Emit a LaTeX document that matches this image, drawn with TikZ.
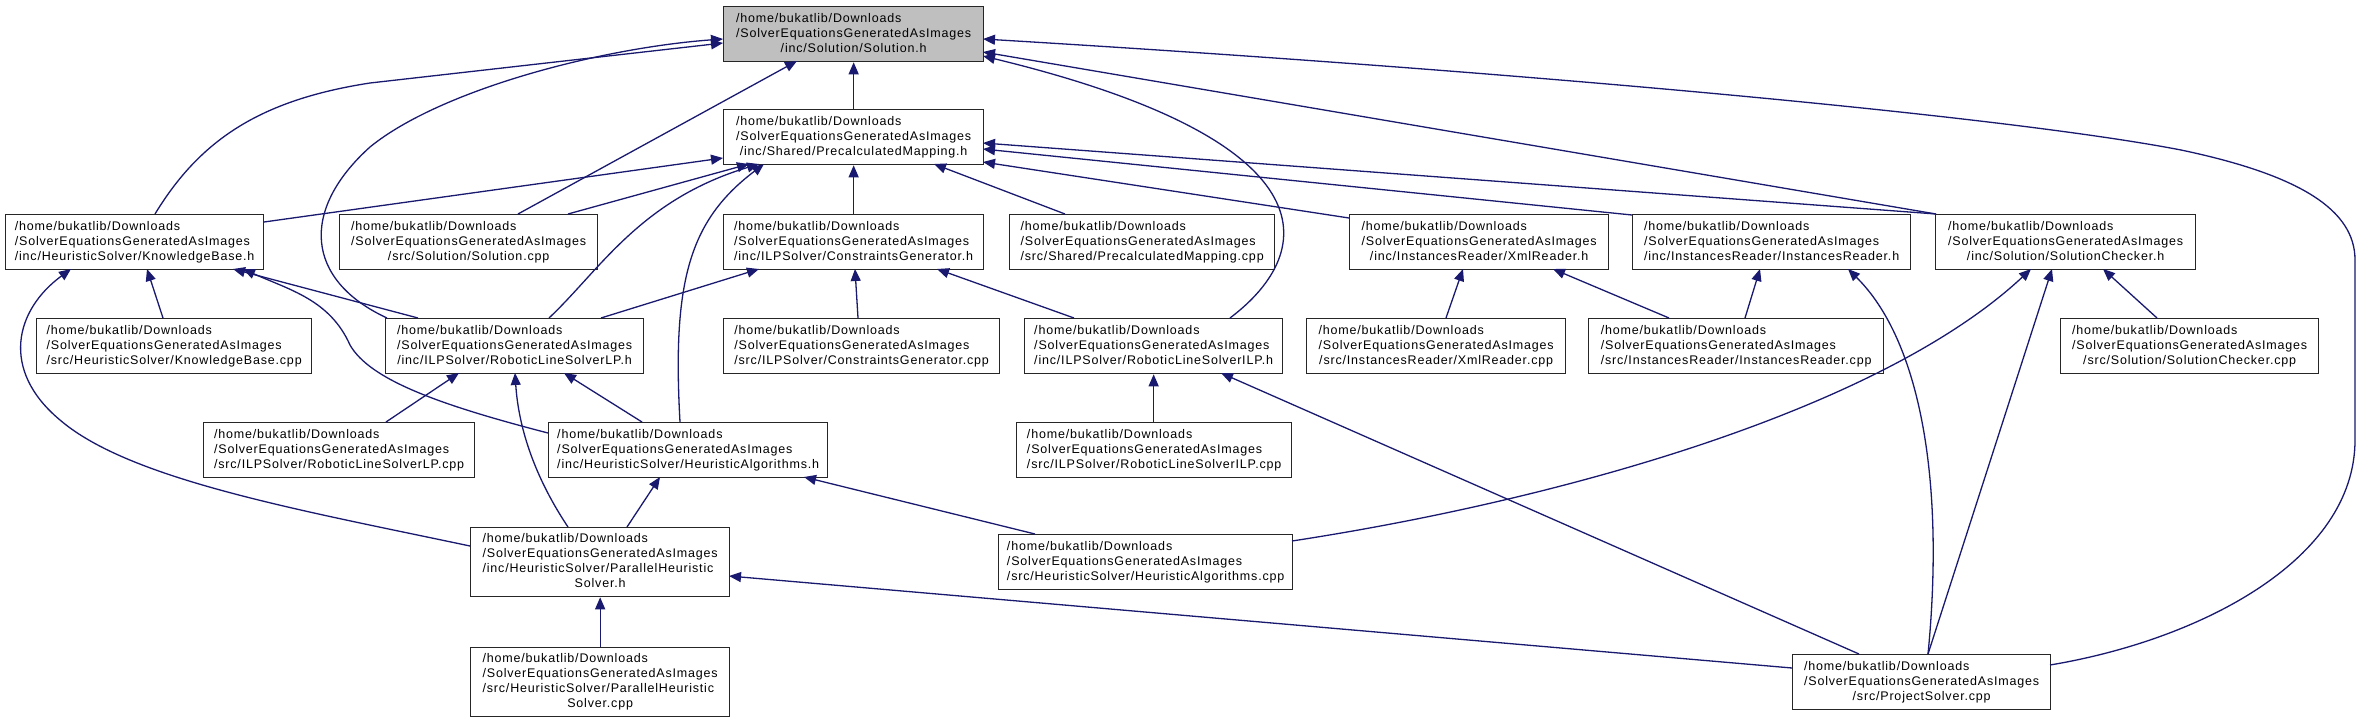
\documentclass[tikz,border=0pt]{standalone}
\usepackage{fontspec}
\setmainfont{Liberation Sans}[LetterSpace=6.5]
\usetikzlibrary{arrows.meta,calc}
\definecolor{edgeblue}{RGB}{25,25,112}
\definecolor{focusgray}{RGB}{191,191,191}
\newcommand\lbl[2]{\begin{tabular}{@{}l@{}}#1\\\multicolumn{1}{@{}c@{}}{#2}\end{tabular}}
\newcommand\hd{/home/bukatlib/Downloads\\/SolverEquationsGeneratedAsImages}
\tikzset{
  box/.style={draw=black!85, line width=1.3pt, fill=white, anchor=north west, inner sep=0pt,
    minimum height=55pt, font=\fontsize{12.5}{15}\selectfont},
  tall/.style={minimum height=69pt},
  focus/.style={fill=focusgray},
  e/.style={draw=edgeblue, line width=1.3pt, {Triangle[length=12pt,width=10pt]}-},
}
\begin{document}
\begin{tikzpicture}[x=1pt,y=-1pt]
\path[fill=white,use as bounding box] (0,0) rectangle (2361,723);
% nodes
\node[box,focus,minimum width=260pt] (sol) at (723,6) {\lbl{\hd}{/inc/Solution/Solution.h}};
\node[box,minimum width=260pt] (pm) at (723,109) {\lbl{\hd}{/inc/Shared/PrecalculatedMapping.h}};
\node[box,minimum width=258pt] (kb) at (5,214) {\lbl{\hd}{/inc/HeuristicSolver/KnowledgeBase.h}};
\node[box,minimum width=258pt] (solcpp) at (339,214) {\lbl{\hd}{/src/Solution/Solution.cpp}};
\node[box,minimum width=260pt] (cg) at (723,214) {\lbl{\hd}{/inc/ILPSolver/ConstraintsGenerator.h}};
\node[box,minimum width=265pt] (pmcpp) at (1009,214) {\lbl{\hd}{/src/Shared/PrecalculatedMapping.cpp}};
\node[box,minimum width=259pt] (xml) at (1349,214) {\lbl{\hd}{/inc/InstancesReader/XmlReader.h}};
\node[box,minimum width=278pt] (ir) at (1632,214) {\lbl{\hd}{/inc/InstancesReader/InstancesReader.h}};
\node[box,minimum width=260pt] (sc) at (1935,214) {\lbl{\hd}{/inc/Solution/SolutionChecker.h}};
\node[box,minimum width=275pt] (kbcpp) at (36,318) {\lbl{\hd}{/src/HeuristicSolver/KnowledgeBase.cpp}};
\node[box,minimum width=258pt] (lp) at (385,318) {\lbl{\hd}{/inc/ILPSolver/RoboticLineSolverLP.h}};
\node[box,minimum width=276pt] (cgcpp) at (723,318) {\lbl{\hd}{/src/ILPSolver/ConstraintsGenerator.cpp}};
\node[box,minimum width=258pt] (ilp) at (1024,318) {\lbl{\hd}{/inc/ILPSolver/RoboticLineSolverILP.h}};
\node[box,minimum width=259pt] (xmlcpp) at (1306,318) {\lbl{\hd}{/src/InstancesReader/XmlReader.cpp}};
\node[box,minimum width=295pt] (ircpp) at (1588,318) {\lbl{\hd}{/src/InstancesReader/InstancesReader.cpp}};
\node[box,minimum width=258pt] (sccpp) at (2060,318) {\lbl{\hd}{/src/Solution/SolutionChecker.cpp}};
\node[box,minimum width=271pt] (lpcpp) at (203,422) {\lbl{\hd}{/src/ILPSolver/RoboticLineSolverLP.cpp}};
\node[box,minimum width=279pt] (ha) at (548,422) {\lbl{\hd}{/inc/HeuristicSolver/HeuristicAlgorithms.h}};
\node[box,minimum width=275pt] (ilpcpp) at (1016,422) {\lbl{\hd}{/src/ILPSolver/RoboticLineSolverILP.cpp}};
\node[box,minimum width=294pt] (hacpp) at (998,534) {\lbl{\hd}{/src/HeuristicSolver/HeuristicAlgorithms.cpp}};
\node[box,tall,minimum width=259pt] (phs) at (470,527) {\lbl{\hd\\/inc/HeuristicSolver/ParallelHeuristic}{Solver.h}};
\node[box,tall,minimum width=259pt] (phscpp) at (470,647) {\lbl{\hd\\/src/HeuristicSolver/ParallelHeuristic}{Solver.cpp}};
\node[box,minimum width=258pt] (ps) at (1792,654) {\lbl{\hd}{/src/ProjectSolver.cpp}};
% edges (arrow at the included file)
\draw[e] ($(sol.north west)+(0,37)$) -- (370,83) .. controls (260,100) and (200,140) .. ($(kb.north west)+(150,0)$);
\draw[e] ($(sol.north west)+(0,33)$) .. controls (600,48) and (440,90) .. (370,147) .. controls (300,210) and (305,280) .. ($(lp.north west)+(2,0)$);
\draw[e] ($(sol.north west)+(74,55)$) -- ($(solcpp.north west)+(179,0)$);
\draw[e] (sol.south) -- (pm.north);
\draw[e] ($(sol.north west)+(260,50)$) .. controls (1330,140) and (1320,250) .. ($(ilp.north west)+(206,0)$);
\draw[e] ($(sol.north west)+(260,46)$) -- ($(sc.north west)+(1,0)$);
\draw[e] ($(sol.north west)+(260,33)$) .. controls (1500,70) and (2000,115) .. (2181,150) .. controls (2300,175) and (2355,210) .. (2355,260) -- (2355,440) .. controls (2355,560) and (2200,640) .. ($(ps.north west)+(258,11)$);
\draw[e] ($(pm.north west)+(0,49)$) -- ($(kb.north west)+(259,8)$);
\draw[e] ($(pm.north west)+(26,55)$) -- ($(solcpp.north west)+(229,0)$);
\draw[e] ($(pm.north west)+(36,55)$) .. controls (640,200) and (600,270) .. ($(lp.north west)+(164,0)$);
\draw[e] ($(pm.north west)+(41,55)$) .. controls (690,220) and (672,280) .. ($(ha.north west)+(132,0)$);
\draw[e] (pm.south) -- (cg.north);
\draw[e] ($(pm.north west)+(211,55)$) -- ($(pmcpp.north west)+(56,0)$);
\draw[e] ($(pm.north west)+(260,53)$) -- ($(xml.north west)+(0,4)$);
\draw[e] ($(pm.north west)+(260,40)$) -- ($(ir.north west)+(0,1)$);
\draw[e] ($(pm.north west)+(260,34)$) -- ($(sc.north west)+(1,0)$);
\draw[e] ($(kb.north west)+(142,55)$) -- ($(kbcpp.north west)+(127,0)$);
\draw[e] ($(kb.north west)+(228,55)$) -- ($(lp.north west)+(33,0)$);
\draw[e] ($(kb.north west)+(238,55)$) .. controls (290,290) and (330,300) .. (350,345) .. controls (370,380) and (440,405) .. ($(ha.north west)+(0,11)$);
\draw[e] ($(kb.north west)+(66,55)$) .. controls (15,310) and (0,370) .. (60,420) .. controls (130,480) and (300,510) .. ($(phs.north west)+(0,19)$);
\draw[e] ($(cg.north west)+(36,55)$) -- ($(lp.north west)+(216,0)$);
\draw[e] ($(cg.north west)+(132,55)$) -- ($(cgcpp.north west)+(135,0)$);
\draw[e] ($(cg.north west)+(214,55)$) -- ($(ilp.north west)+(50,0)$);
\draw[e] ($(lp.north west)+(74,55)$) -- ($(lpcpp.north west)+(183,0)$);
\draw[e] ($(lp.north west)+(130,55)$) .. controls (518,420) and (530,470) .. ($(phs.north west)+(98,0)$);
\draw[e] ($(lp.north west)+(179,55)$) -- ($(ha.north west)+(94,0)$);
\draw[e] ($(ha.north west)+(112,55)$) -- ($(phs.north west)+(157,0)$);
\draw[e] ($(ha.north west)+(256,55)$) -- ($(hacpp.north west)+(37,0)$);
\draw[e] (phs.south) -- (phscpp.north);
\draw[e] ($(phs.north west)+(259,49)$) -- ($(ps.north west)+(0,14)$);
\draw[e] (ilp.south) -- (ilp.south |- ilpcpp.north);
\draw[e] ($(ilp.north west)+(197,55)$) -- ($(ps.north west)+(67,0)$);
\draw[e] ($(xml.north west)+(114,55)$) -- ($(xmlcpp.north west)+(140,0)$);
\draw[e] ($(xml.north west)+(204,55)$) -- ($(ircpp.north west)+(81,0)$);
\draw[e] ($(ir.north west)+(128,55)$) -- ($(ircpp.north west)+(157,0)$);
\draw[e] ($(ir.north west)+(216,55)$) .. controls (1920,340) and (1945,480) .. ($(ps.north west)+(136,0)$);
\draw[e] ($(sc.north west)+(96,55)$) .. controls (1880,410) and (1560,500) .. ($(hacpp.north west)+(294,7)$);
\draw[e] ($(sc.north west)+(117,55)$) -- ($(ps.north west)+(136,0)$);
\draw[e] ($(sc.north west)+(168,55)$) -- ($(sccpp.north west)+(97,0)$);
\end{tikzpicture}
\end{document}
